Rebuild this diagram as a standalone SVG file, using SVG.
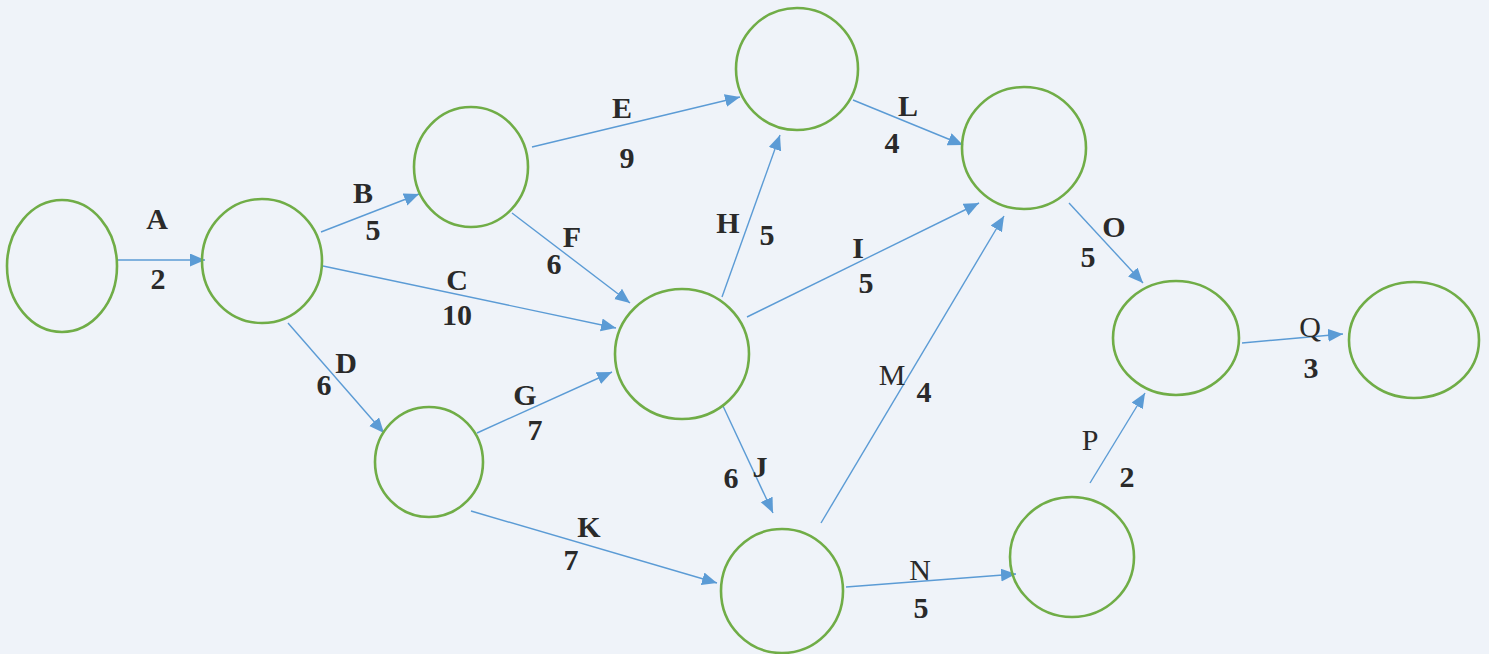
<svg xmlns="http://www.w3.org/2000/svg" width="1489" height="654" viewBox="0 0 1489 654">
<style>
.node{fill:none;stroke:#70ad47;stroke-width:2.6}
.edge{stroke:#5b9bd5;stroke-width:1.4;fill:none;marker-end:url(#ah)}
.lb{font-size:30px;font-weight:bold;fill:#2a2a2a;text-anchor:middle}
.ln{font-weight:normal}
</style>
<defs>
<marker id="ah" markerUnits="userSpaceOnUse" markerWidth="16" markerHeight="14" refX="15" refY="6.5" orient="auto">
<path d="M0,0 L15,6.5 L0,13 z" fill="#5b9bd5"/>
</marker>
</defs>
<rect width="1489" height="654" fill="#eff3f9"/>
<g id="connectors">
<line class="edge" x1="117" y1="260" x2="205" y2="260"/>
<line class="edge" x1="321" y1="232" x2="419" y2="194"/>
<line class="edge" x1="323" y1="266" x2="616" y2="328"/>
<line class="edge" x1="288" y1="323" x2="384" y2="433"/>
<line class="edge" x1="532" y1="147" x2="740" y2="97"/>
<line class="edge" x1="512" y1="213" x2="630" y2="303"/>
<line class="edge" x1="477" y1="433" x2="612" y2="372"/>
<line class="edge" x1="722" y1="297" x2="780" y2="135"/>
<line class="edge" x1="747" y1="317" x2="979" y2="203"/>
<line class="edge" x1="723" y1="406" x2="773" y2="513"/>
<line class="edge" x1="471" y1="511" x2="717" y2="583"/>
<line class="edge" x1="853" y1="100" x2="963" y2="145"/>
<line class="edge" x1="821" y1="523" x2="1004" y2="216"/>
<line class="edge" x1="846" y1="587" x2="1016" y2="574"/>
<line class="edge" x1="1069" y1="203" x2="1143" y2="283"/>
<line class="edge" x1="1090" y1="483" x2="1145" y2="393"/>
<line class="edge" x1="1242" y1="343" x2="1343" y2="334"/>
</g>
<g id="node1"><ellipse class="node" cx="62" cy="266" rx="55" ry="66"/></g>
<g id="node2"><ellipse class="node" cx="262" cy="261" rx="60" ry="62"/></g>
<g id="node3"><ellipse class="node" cx="471" cy="167" rx="57" ry="60"/></g>
<g id="node4"><ellipse class="node" cx="797" cy="69" rx="61" ry="61"/></g>
<g id="node5"><ellipse class="node" cx="1024" cy="148" rx="62" ry="61"/></g>
<g id="node6"><ellipse class="node" cx="682" cy="354" rx="67" ry="65"/></g>
<g id="node7"><ellipse class="node" cx="429" cy="462" rx="54" ry="55"/></g>
<g id="node8"><ellipse class="node" cx="782" cy="591" rx="61" ry="62"/></g>
<g id="node9"><ellipse class="node" cx="1176" cy="338" rx="63" ry="57"/></g>
<g id="node10"><ellipse class="node" cx="1072" cy="557" rx="62" ry="60"/></g>
<g id="node11"><ellipse class="node" cx="1414" cy="340" rx="65" ry="58"/></g>
<g id="labels" font-family="'Liberation Serif', 'Times New Roman', 'DejaVu Serif', serif">
<text class="lb" x="157" y="229">A</text><text class="lb" x="158" y="289">2</text>
<text class="lb" x="363" y="203">B</text><text class="lb" x="373" y="240">5</text>
<text class="lb" x="457" y="290">C</text><text class="lb" x="457" y="325">10</text>
<text class="lb" x="346" y="373">D</text><text class="lb" x="324" y="395">6</text>
<text class="lb" x="622" y="118">E</text><text class="lb" x="627" y="168">9</text>
<text class="lb" x="572" y="247">F</text><text class="lb" x="554" y="274">6</text>
<text class="lb" x="525" y="405">G</text><text class="lb" x="535" y="440">7</text>
<text class="lb" x="728" y="233">H</text><text class="lb" x="767" y="245">5</text>
<text class="lb" x="858" y="258">I</text><text class="lb" x="866" y="293">5</text>
<text class="lb" x="760" y="477">J</text><text class="lb" x="731" y="488">6</text>
<text class="lb" x="589" y="537">K</text><text class="lb" x="571" y="570">7</text>
<text class="lb" x="908" y="116">L</text><text class="lb" x="892" y="153">4</text>
<text class="lb ln" x="892" y="385">M</text><text class="lb" x="924" y="402">4</text>
<text class="lb ln" x="920" y="580">N</text><text class="lb" x="921" y="618">5</text>
<text class="lb" x="1114" y="237">O</text><text class="lb" x="1088" y="267">5</text>
<text class="lb ln" x="1090" y="450">P</text><text class="lb" x="1127" y="487">2</text>
<text class="lb ln" x="1310" y="337">Q</text><text class="lb" x="1311" y="378">3</text>
</g>
</svg>
